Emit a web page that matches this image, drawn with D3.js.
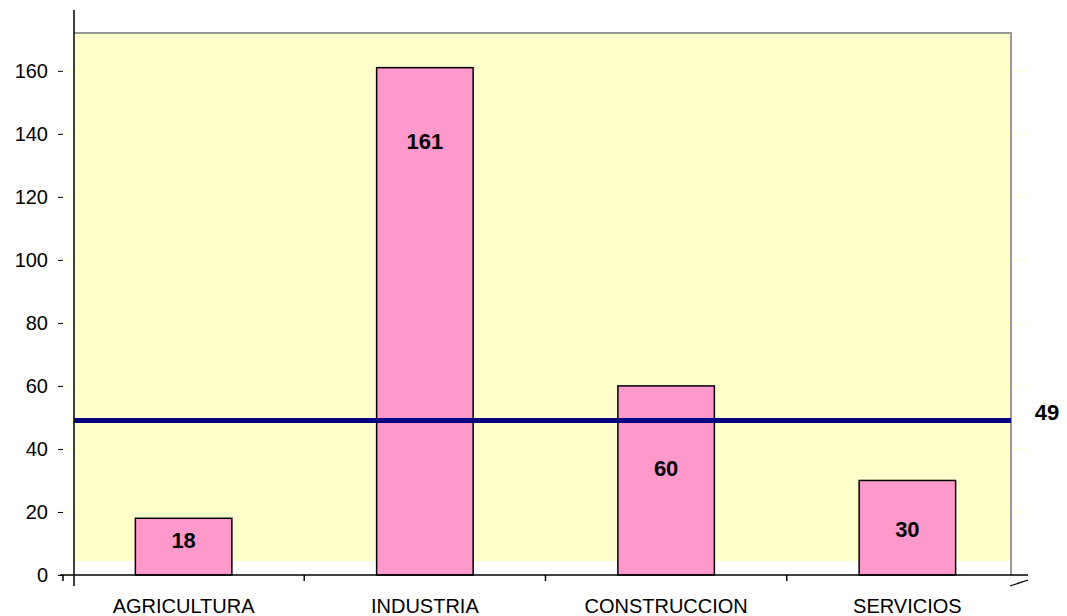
<!DOCTYPE html>
<html><head><meta charset="utf-8">
<script src="https://cdn.jsdelivr.net/npm/d3@7"></script>
<style>body{margin:0;background:#fff;}svg{display:block;font-family:Arial,"Liberation Sans",sans-serif;}</style>
</head><body>
<svg id="c" width="1067" height="616"></svg>
<script>
const categories = ["AGRICULTURA", "INDUSTRIA", "CONSTRUCCION", "SERVICIOS"];
const values = [18, 161, 60, 30];
const averageValue = 49;
const yTicks = [0, 20, 40, 60, 80, 100, 120, 140, 160];

// label anchor heights (value units) as drawn in the original
const labelAnchors = [11, 137.5, 33.7, 14.3];

const svg = d3.select("#c");
const y = d3.scaleLinear().domain([0, 172]).range([575, 33]);
const x = d3.scaleBand().domain(categories).range([63, 1028]).padding(0);
const wallLeft = 74, wallRight = 1011, wallBottom = y(4.4);

// back wall
svg.append("rect").attr("x", wallLeft).attr("y", y(172)).attr("width", wallRight - wallLeft)
  .attr("height", wallBottom - y(172)).attr("fill", "#ffffcc");
// faint gridline stubs
yTicks.forEach(t => {
  svg.append("line").attr("x1", 63).attr("x2", wallLeft).attr("y1", y(t)).attr("y2", y(t))
    .attr("stroke", "#ffffcc").attr("stroke-width", 1);
  svg.append("line").attr("x1", wallRight).attr("x2", 1028).attr("y1", y(t)).attr("y2", y(t))
    .attr("stroke", "#ffffcc").attr("stroke-width", 1);
});
// wall borders (top, right)
svg.append("path").attr("d", `M${wallLeft},${y(172)}H${wallRight}V575`)
  .attr("fill", "none").attr("stroke", "#999").attr("stroke-width", 2);

// bars
const bw = x.bandwidth() * 0.4;
svg.selectAll("rect.bar").data(values).enter().append("rect").attr("class", "bar")
  .attr("x", (d, i) => x(categories[i]) + x.bandwidth() / 2 - bw / 2)
  .attr("y", d => y(d)).attr("width", bw).attr("height", d => y(0) - y(d))
  .attr("fill", "#ff99cc").attr("stroke", "#000").attr("stroke-width", 1.5);

// average line
svg.append("line").attr("x1", wallLeft).attr("x2", wallRight)
  .attr("y1", y(averageValue)).attr("y2", y(averageValue))
  .attr("stroke", "#000080").attr("stroke-width", 5);

// data labels
svg.selectAll("text.lbl").data(values).enter().append("text").attr("class", "lbl")
  .attr("x", (d, i) => x(categories[i]) + x.bandwidth() / 2)
  .attr("y", (d, i) => y(labelAnchors[i]))
  .attr("text-anchor", "middle").attr("dominant-baseline", "central")
  .attr("font-weight", "bold").attr("font-size", 22).text(d => d);
svg.append("text").attr("x", 1047).attr("y", y(averageValue) - 8)
  .attr("text-anchor", "middle").attr("dominant-baseline", "central")
  .attr("font-weight", "bold").attr("font-size", 22).text(averageValue);

// y axis
const yAxis = d3.axisLeft(y).tickValues(yTicks).tickSize(5).tickPadding(10);
const gy = svg.append("g").attr("transform", "translate(63,0)").call(yAxis);
gy.select(".domain").remove();
gy.selectAll(".tick text").attr("font-size", 20).attr("font-family", "Arial, 'Liberation Sans', sans-serif").attr("fill", "#000");
gy.selectAll(".tick line").attr("stroke", "#000");
svg.append("line").attr("x1", wallLeft).attr("x2", wallLeft).attr("y1", 10).attr("y2", 586)
  .attr("stroke", "#000").attr("stroke-width", 1.5);

// x axis
svg.append("line").attr("x1", 60).attr("x2", 1028).attr("y1", y(0)).attr("y2", y(0))
  .attr("stroke", "#000").attr("stroke-width", 1.5);
const xAxis = d3.axisBottom(x).tickSize(0).tickPadding(24);
const gx = svg.append("g").attr("transform", `translate(0,${y(0)})`).call(xAxis);
gx.select(".domain").remove();
gx.selectAll(".tick text").attr("font-size", 20).attr("font-family", "Arial, 'Liberation Sans', sans-serif").attr("fill", "#000");
// category separators
const seps = categories.map(c => x(c));
svg.selectAll("line.sep").data(seps).enter().append("line").attr("class", "sep")
  .attr("x1", d => d).attr("x2", d => d).attr("y1", y(0)).attr("y2", y(0) + 6)
  .attr("stroke", "#000").attr("stroke-width", 1.5);
svg.append("line").attr("x1", 1010).attr("y1", 586).attr("x2", 1028).attr("y2", 580)
  .attr("stroke", "#000").attr("stroke-width", 1.2);
</script>
</body></html>
